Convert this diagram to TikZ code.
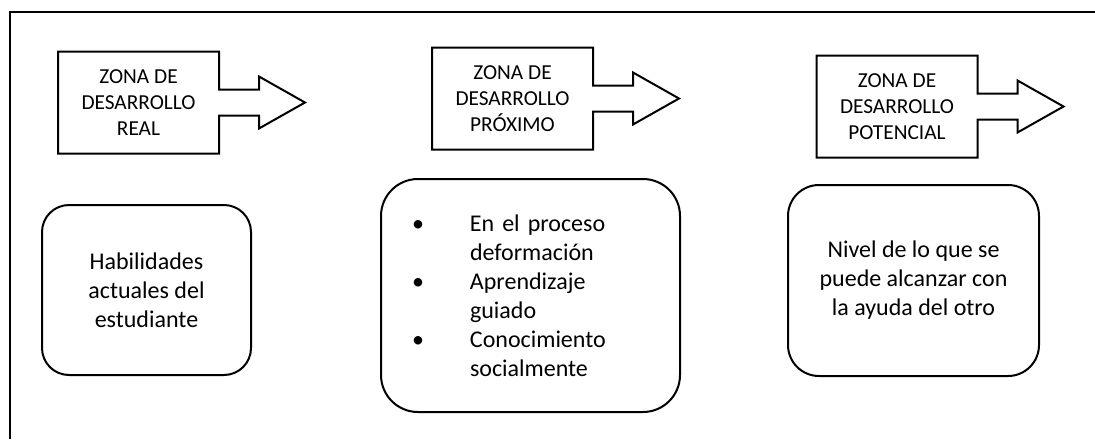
\documentclass[tikz,border=0pt]{standalone}
\usepackage{fontspec}
\setmainfont{Carlito}

\tikzset{
  zona/.style={minimum width=120.75pt, minimum height=76.5pt, outer sep=0, inner sep=0,
    align=center, font=\fontsize{16}{19.5}\selectfont},
  caja/.style={draw, line width=1.5pt, align=center, font=\fontsize{18}{21.75}\selectfont},
  flecha/.style={draw, line width=1.5pt, line join=miter}
}

\begin{document}
\begin{tikzpicture}[x=0.75pt, y=-0.75pt]
    \useasboundingbox (0,0) rectangle (1095,439);
    \draw[line width=1.5pt] (10,439) |- (1095,12);
    % zonas de desarrollo
    \node[zona] (real) at (138.5,102.5) {ZONA DE\\DESARROLLO\\REAL};
    \node[zona] (proximo) at (512.5,98.5) {ZONA DE\\DESARROLLO\\PRÓXIMO};
    \node[zona] (potencial) at (897,106.5) {ZONA DE\\DESARROLLO\\POTENCIAL};
    \foreach \z in {real, proximo, potencial}
      \draw[flecha] (\z.east) ++(0,-13) -- ++(40,0) -- ++(0,-13) -- ++(46,26) -- ++(-46,26)
        -- ++(0,-13) -- ++(-40,0) -- (\z.south east) -- (\z.south west) -- (\z.north west)
        -- (\z.north east) -- cycle;
    % cajas
    \node[caja, minimum width=156.75pt, minimum height=127.5pt, rounded corners=20.25pt]
      (actual) at (146.5,290) {Habilidades\\actuales del\\estudiante};
    \node[caja, minimum width=224.25pt, minimum height=174.75pt, rounded corners=27.75pt,
      align=left, text width=224.25pt, inner xsep=0]
      (proceso) at (530.5,295.5) {\makebox[55.5pt]{\textbullet}\hspace*{11.25pt}En el proceso\\
        \hspace*{66.75pt}deformación\\
        \makebox[55.5pt]{\textbullet}\hspace*{11.25pt}Aprendizaje\\
        \hspace*{66.75pt}guiado\\
        \makebox[55.5pt]{\textbullet}\hspace*{11.25pt}Conocimiento\\
        \hspace*{66.75pt}socialmente};
    \node[caja, minimum width=188.25pt, minimum height=143.25pt, rounded corners=23.25pt]
      (nivel) at (913.5,280.5) {Nivel de lo que se\\puede alcanzar con\\la ayuda del otro};
\end{tikzpicture}
\end{document}
